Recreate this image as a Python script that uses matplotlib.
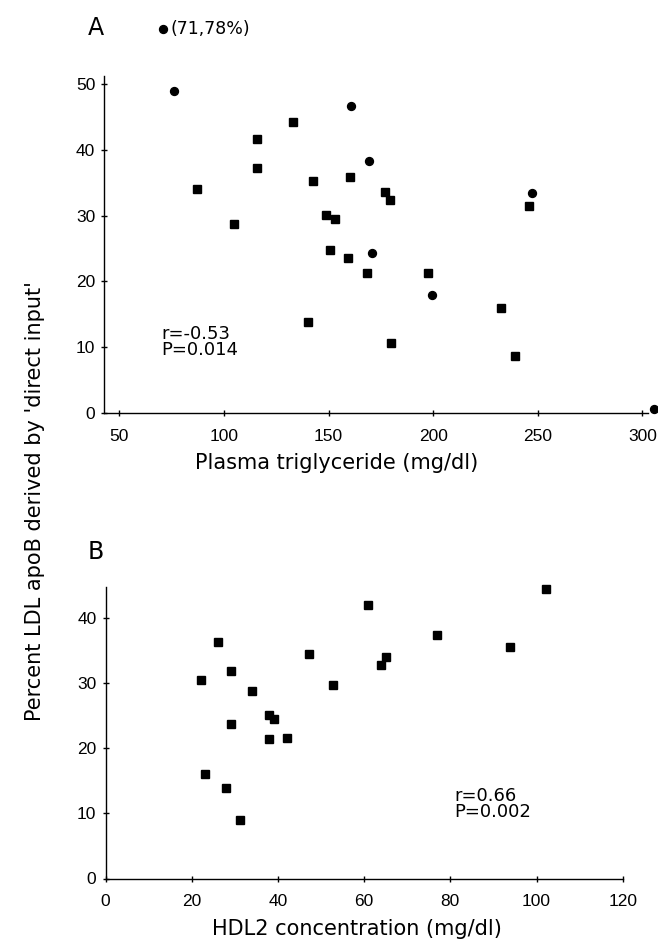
import matplotlib
matplotlib.use("Agg")
import matplotlib.pyplot as plt
import matplotlib.transforms as mtransforms

plt.rcParams['font.family'] = ['DejaVu Sans']

# Panel A: plasma triglyceride vs percent LDL apoB by direct input
a_sq_x = [87.0, 115.7, 115.7, 104.8, 133.2, 142.7, 160.3, 148.8, 153.3, 177.0,
          179.5, 245.8, 150.9, 159.5, 168.3, 197.4, 232.6, 140.3, 179.7, 239.0]
a_sq_y = [34.1, 41.7, 37.2, 28.7, 44.2, 35.3, 35.8, 30.1, 29.5, 33.6,
          32.4, 31.5, 24.8, 23.5, 21.2, 21.2, 15.9, 13.8, 10.7, 8.7]
a_ci_x = [76.0, 160.6, 169.4, 247.4, 170.8, 199.5, 305.7]
a_ci_y = [48.9, 46.7, 38.3, 33.5, 24.3, 17.9, 0.6]
outlier_x, outlier_y = 71, 78
a_xticks = [50, 100, 150, 200, 250, 300]
a_yticks = [0, 10, 20, 30, 40, 50]

# Panel B: HDL2 concentration vs percent LDL apoB by direct input
b_x = [60.9, 26.2, 47.1, 29.2, 22.1, 52.9, 34.0, 38.0, 39.0, 29.1,
       38.0, 42.2, 23.1, 27.9, 31.2, 102.1, 76.8, 93.8, 65.0, 64.0]
b_y = [41.9, 36.2, 34.5, 31.8, 30.4, 29.7, 28.8, 25.1, 24.5, 23.7,
       21.4, 21.5, 16.1, 13.9, 9.0, 44.4, 37.4, 35.5, 34.0, 32.8]
b_xticks = [0, 20, 40, 60, 80, 100, 120]
b_yticks = [0, 10, 20, 30, 40]

W, H = 658, 947
fig = plt.figure(figsize=(W / 100, H / 100), dpi=100)

def px_axes(l, r, t, b):
    return fig.add_axes([l / W, 1 - b / H, (r - l) / W, (b - t) / H])

axA = px_axes(104.3, 648, 76, 413)
axB = px_axes(105.5, 622.7, 587, 878.5)

tick_font = ['Liberation Sans', 'DejaVu Sans']

def style(ax):
    for s in ['top', 'right']:
        ax.spines[s].set_visible(False)
    for s in ['left', 'bottom']:
        ax.spines[s].set_linewidth(1.0)
    ax.tick_params(direction='inout', length=5, width=1.0, labelsize=12.5)
    ax.tick_params(axis='x', pad=9)
    ax.tick_params(axis='y', pad=4)

style(axA)
style(axB)

ms_sq = 5.2
ms_ci = 5.7
axA.plot(a_sq_x, a_sq_y, 's', color='black', ms=ms_sq, clip_on=False)
axA.plot(a_ci_x, a_ci_y, 'o', color='black', ms=ms_ci, clip_on=False)
axA.set_xlim(42.8, 302.7)
axA.set_ylim(0, 51.2)
axA.set_xticks(a_xticks)
axA.set_yticks(a_yticks)
axA.set_xlabel('Plasma triglyceride (mg/dl)', fontsize=15, labelpad=4)
axA.xaxis.set_label_coords(0.428, -0.12)

# off-scale outlier drawn above the axes
trans = mtransforms.blended_transform_factory(axA.transData, axA.transAxes)
axA.plot([outlier_x], [1.1386], 'o', color='black', ms=ms_ci, transform=trans, clip_on=False)
axA.text(outlier_x + 3.3, 1.1386, f'({outlier_x},{outlier_y}%)', transform=trans,
         fontsize=12.5, va='center', ha='left')
axA.text(70.2, 8.2, 'r=-0.53\nP=0.014', fontsize=13, va='bottom', ha='left', linespacing=0.85)

axB.plot(b_x, b_y, 's', color='black', ms=ms_sq, clip_on=False)
axB.set_xlim(0, 120)
axB.set_ylim(0, 44.7)
axB.set_xticks(b_xticks)
axB.set_yticks(b_yticks)
axB.set_xlabel('HDL2 concentration (mg/dl)', fontsize=15, labelpad=3)
axB.xaxis.set_label_coords(0.486, -0.14)
axB.text(81, 8.8, 'r=0.66\nP=0.002', fontsize=13, va='bottom', ha='left', linespacing=0.85)

for ax in (axA, axB):
    for lab in ax.get_xticklabels() + ax.get_yticklabels():
        lab.set_family(tick_font)
        lab.set_fontsize(12.5)

fig.text(88 / W, 1 - 28 / H, 'A', fontsize=17, ha='left', va='center')
fig.text(88 / W, 1 - 552 / H, 'B', fontsize=17, ha='left', va='center')
fig.text(35 / W, 1 - 501 / H, "Percent LDL apoB derived by 'direct input'", rotation=90,
         fontsize=15, ha='center', va='center')

fig.savefig('out.png', dpi=100)
